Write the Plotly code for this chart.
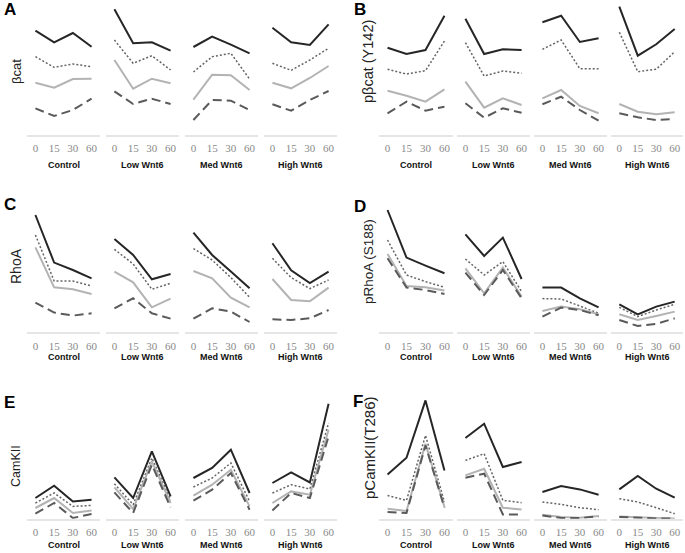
import plotly.graph_objects as go

# ---------------- data (relative levels) ----------------
groups = ["Control", "Low Wnt6", "Med Wnt6", "High Wnt6"]
times = ["0", "15", "30", "60"]
panel_letters = ["A", "B", "C", "D", "E", "F"]
panel_titles = ["βcat", "pβcat (Y142)", "RhoA", "pRhoA (S188)", "CamKII", "pCamKII(T286)"]

# each list: Control(0,15,30,60), Low, Med, High
bcat_s1 = [104.3, 92.7, 102, 88.3, 125.7, 91.7, 92.7, 84.3, 88, 98.3, 90.3, 81.7, 107.3, 92.7, 90, 110.7]
bcat_s2 = [78.3, 67.7, 71, 68.3, 95, 71.7, 79.3, 65, 63, 78.3, 81.7, 56, 71.7, 64.7, 75, 86.7]
bcat_s3 = [52.3, 47.3, 56, 56.3, 75, 46.3, 56.3, 51.7, 35.3, 60.3, 59.7, 45, 52.3, 46.7, 57, 69]
bcat_s4 = [26.7, 19, 25, 36.3, 43.7, 31, 36.3, 31, 15, 35, 34.3, 25, 30.7, 24.3, 35, 44]

pbcat_s1 = [87.3, 81, 85, 119.3, 116.3, 81, 85.7, 85, 112.7, 119.3, 93, 96.7, 128.3, 79.3, 90.7, 106]
pbcat_s2 = [65.7, 61, 64.3, 94, 92.3, 59, 64, 61.7, 85.7, 95, 66.3, 66.3, 102.7, 63.3, 65.7, 83.3]
pbcat_s3 = [44.3, 39.3, 33.3, 45.7, 53.3, 27.3, 36.7, 30, 36.7, 45, 29, 21.7, 31, 23.3, 20.7, 22.7]
pbcat_s4 = [21.7, 33.3, 24.3, 28.3, 31.7, 17.3, 26.7, 22.3, 30.7, 38.3, 25, 14.3, 21.7, 17.7, 15, 16]

rhoa_s1 = [117.3, 69.7, 62.3, 54, 93.3, 77.3, 53, 58.3, 99.7, 77.3, 60.7, 44, 89, 62, 49.3, 60.7]
rhoa_s2 = [97.3, 51.3, 51.3, 46.3, 83, 68.3, 43, 49, 83.7, 72.3, 54.7, 35, 74, 54.7, 43.7, 52.3]
rhoa_s3 = [85, 45, 43, 38.3, 60.7, 50, 25, 33.7, 61.3, 54, 34.7, 25, 53.3, 32.3, 31, 44.7]
rhoa_s4 = [29.7, 19.7, 16.7, 19, 24, 34, 19, 13.7, 13.7, 24, 20.7, 10.3, 13, 12.3, 14, 22.3]

prhoa_s1 = [122.3, 74.7, 66.7, 59, 98, 76.3, 94.7, 53.3, 44.7, 44.7, 34, 25, 28, 18, 25.7, 30.7]
prhoa_s2 = [92.3, 57.3, 50.7, 45, 73.3, 57.3, 70.7, 40.7, 33.7, 33.3, 26.3, 19, 25, 15.7, 22.3, 28]
prhoa_s3 = [78.3, 46.3, 45, 41.7, 64, 39, 64.7, 35.7, 21.3, 25.7, 23, 18, 18, 12.3, 16.3, 20.7]
prhoa_s4 = [74, 44.7, 42.3, 38.3, 59.7, 37.3, 62.3, 34, 15.7, 24.7, 22.3, 17, 12.3, 6.3, 8.3, 14]

camk_s1 = [20.7, 33, 17.3, 19, 41.3, 20.7, 67.3, 22.3, 40.7, 50.7, 69, 25.7, 35.7, 46.3, 36.3, 115]
camk_s2 = [15.7, 25.7, 12.3, 13.3, 35, 14, 60.7, 19, 31.7, 40.7, 55.7, 17.3, 25.7, 34, 29.7, 95.7]
camk_s3 = [10.7, 20.7, 5.7, 8.3, 31.3, 9.7, 57.3, 15.7, 23, 34, 49, 12.3, 15.7, 27.3, 24, 89]
camk_s4 = [5, 15.7, 0.7, 4.7, 26.3, 5.7, 54, 11.3, 18, 29, 45.7, 9, 8.3, 25.7, 20.7, 82.3]

pcamk_s1 = [44.3, 61, 118.3, 48.3, 80.7, 95, 51.7, 56.7, 26.7, 32.7, 29.3, 24, 29.3, 42.7, 30, 21]
pcamk_s2 = [23.3, 18.3, 83.3, 16.7, 58.3, 65, 18.3, 16, 16.7, 14.3, 11, 9, 20, 16.7, 11, 5]
pcamk_s3 = [10, 7.7, 75, 11.7, 43.3, 50, 11, 9.3, 4, 1.7, 1, 2.7, 2.3, 1.3, 0.7, 0.3]
pcamk_s4 = [6.7, 5.7, 73.3, 11, 41, 45, 4.3, 4.3, 3.3, 0.7, 0.7, 2.3, 1.7, 0.7, 0.3, 0.3]

panel_data = [
    [bcat_s1, bcat_s2, bcat_s3, bcat_s4],
    [pbcat_s1, pbcat_s2, pbcat_s3, pbcat_s4],
    [rhoa_s1, rhoa_s2, rhoa_s3, rhoa_s4],
    [prhoa_s1, prhoa_s2, prhoa_s3, prhoa_s4],
    [camk_s1, camk_s2, camk_s3, camk_s4],
    [pcamk_s1, pcamk_s2, pcamk_s3, pcamk_s4],
]

# ---------------- layout geometry ----------------
W, H = 685, 553
left_cols = [(27, 100), (106, 179), (185, 258), (264, 337)]
right_cols = [(379, 453), (457, 530), (534, 607), (611, 683)]
rows = [(0, 135), (197.3, 332.3), (383.7, 518.7)]
group_label_y = [165, 357, 545]
title_pos = [(16, 71, 13), (368, 62, 14.5), (16, 266, 14), (368, 262, 13.5), (16, 466, 12.5), (369, 448, 15)]
letter_pos = [(2, 9), (352, 9), (2, 204), (352, 206), (2, 402), (351, 401)]

styles = [
    dict(color="#262626", width=2, dash="solid"),
    dict(color="#646464", width=1.5, dash="2px,2px"),
    dict(color="#b3b3b3", width=2, dash="solid"),
    dict(color="#5a5a5a", width=2, dash="9px,5px"),
]

def px_x(v):
    return v / W

def px_y(v):
    return 1 - v / H

fig = go.Figure()
annotations = []
layout_axes = {}

for p in range(6):
    r = p // 2
    cols = left_cols if p % 2 == 0 else right_cols
    top, bot = rows[r]
    for g in range(4):
        n = p * 4 + g + 1
        xa = "x" if n == 1 else f"x{n}"
        ya = "y" if n == 1 else f"y{n}"
        for s in range(4):
            vals = panel_data[p][s][g * 4:(g + 1) * 4]
            fig.add_trace(go.Scatter(
                x=times, y=vals, mode="lines", line=styles[s],
                xaxis=xa, yaxis=ya, showlegend=False, cliponaxis=False,
                hoverinfo="skip"))
        x0, x1 = cols[g]
        layout_axes[f"xaxis{'' if n == 1 else n}"] = dict(
            domain=[px_x(x0), px_x(x1)], anchor=ya, type="category",
            range=[-0.45, 3.45], showline=True, linecolor="#e6e6e6", linewidth=2,
            ticks="outside", ticklen=2, tickcolor="rgba(0,0,0,0)",
            tickfont=dict(family="Liberation Serif, Times New Roman, serif", size=11, color="#8a8a8a"),
            showgrid=False, zeroline=False, fixedrange=True)
        layout_axes[f"yaxis{'' if n == 1 else n}"] = dict(
            domain=[px_y(bot), px_y(top)], anchor=xa, range=[0, 135],
            visible=False, fixedrange=True)
        annotations.append(dict(
            text=f"<b>{groups[g]}</b>", x=px_x((x0 + x1) / 2), y=px_y(group_label_y[r]),
            xref="paper", yref="paper", xanchor="center", yanchor="middle",
            showarrow=False, font=dict(family="Liberation Sans", size=9, color="#111")))
    tx, ty, ts = title_pos[p]
    annotations.append(dict(
        text=panel_titles[p], x=px_x(tx), y=px_y(ty), xref="paper", yref="paper",
        xanchor="center", yanchor="middle", textangle=-90, showarrow=False,
        font=dict(family="Liberation Sans", size=ts, color="#222")))
    lx, ly = letter_pos[p]
    annotations.append(dict(
        text=f"<b>{panel_letters[p]}</b>", x=px_x(lx), y=px_y(ly), xref="paper", yref="paper",
        xanchor="left", yanchor="middle", showarrow=False,
        font=dict(family="Liberation Sans", size=17, color="#000")))

fig.update_layout(
    width=W, height=H, margin=dict(l=0, r=0, t=0, b=0),
    paper_bgcolor="white", plot_bgcolor="white",
    annotations=annotations, **layout_axes)

fig.write_html(
    "out.html",
    config={"displayModeBar": False},
    post_script="document.body.style.margin='0';document.body.style.overflow='hidden';")
